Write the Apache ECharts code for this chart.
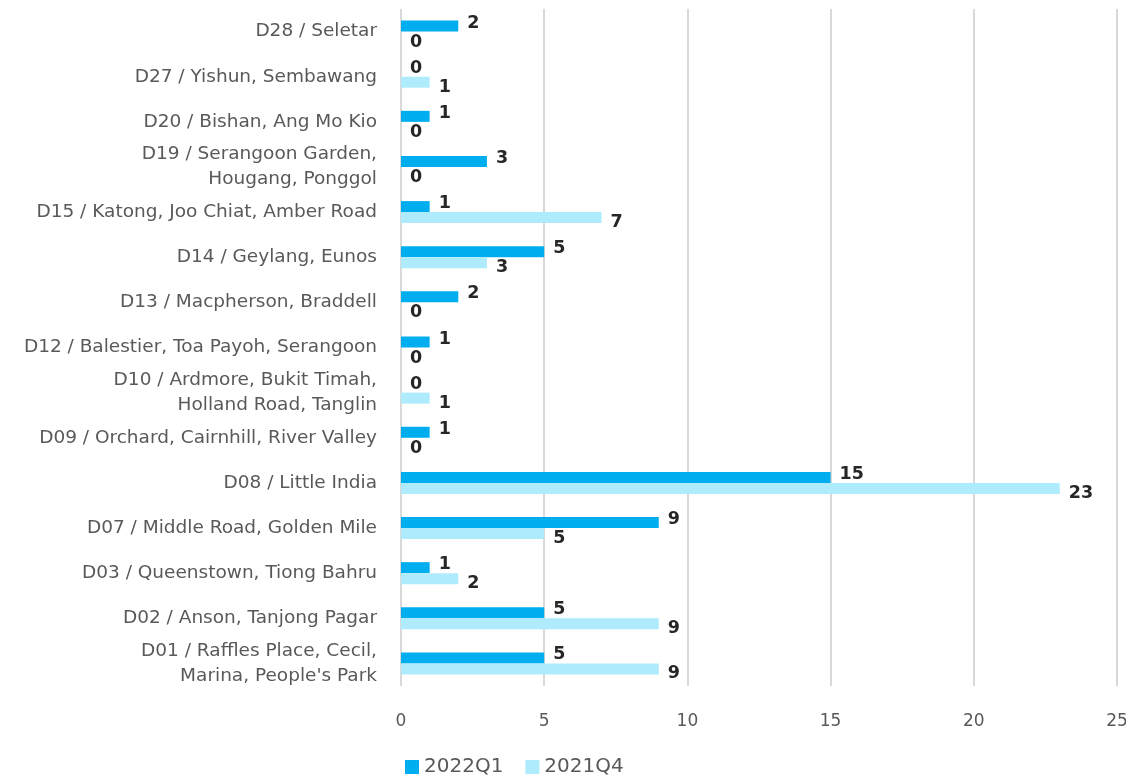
<!DOCTYPE html>
<html>
<head>
<meta charset="utf-8">
<script src="https://cdn.jsdelivr.net/npm/echarts@6/dist/echarts.min.js"></script>
<style>
	html, body { margin: 0; padding: 0; background: #fff; }
	#main { width: 1126px; height: 775px; }
</style>
</head>
<body>
<div id="main"></div>
<script>
// categories, bottom to top as the axis draws them
var districts = [
	"D01 / Raffles Place, Cecil,\nMarina, People's Park",
	'D02 / Anson, Tanjong Pagar',
	'D03 / Queenstown, Tiong Bahru',
	'D07 / Middle Road, Golden Mile',
	'D08 / Little India',
	'D09 / Orchard, Cairnhill, River Valley',
	'D10 / Ardmore, Bukit Timah,\nHolland Road, Tanglin',
	'D12 / Balestier, Toa Payoh, Serangoon',
	'D13 / Macpherson, Braddell',
	'D14 / Geylang, Eunos',
	'D15 / Katong, Joo Chiat, Amber Road',
	'D19 / Serangoon Garden,\nHougang, Ponggol',
	'D20 / Bishan, Ang Mo Kio',
	'D27 / Yishun, Sembawang',
	'D28 / Seletar'
];
var q1_2022 = [5, 5, 1, 9, 15, 1, 0, 1, 2, 5, 1, 3, 1, 0, 2];
var q4_2021 = [9, 9, 2, 5, 23, 0, 1, 0, 0, 3, 7, 0, 0, 1, 0];
var seriesNames = ['2022Q1', '2021Q4'];
var xTicks = { min: 0, max: 25, interval: 5 };

var font = '"DejaVu Sans", sans-serif';

var myChart = echarts.init(document.getElementById('main'));

function barLabel(dy) {
	return {
		show: true,
		position: 'right',
		distance: 9,
		offset: [0, dy],
		color: '#262626',
		fontSize: 17.5,
		fontWeight: 'bold',
		fontFamily: font
	};
}

var option = {
	animation: false,
	color: ['#00AEEF', '#AEEBFC'],
	grid: {
		left: 401,
		right: 9,
		top: 9,
		bottom: 89,
		outerBoundsMode: 'none'
	},
	legend: {
		data: seriesNames,
		left: 400,
		top: 752,
		icon: 'rect',
		itemWidth: 14,
		itemHeight: 14,
		itemGap: 22,
		textStyle: { color: '#595959', fontSize: 20, fontFamily: font }
	},
	xAxis: {
		type: 'value',
		min: xTicks.min,
		max: xTicks.max,
		interval: xTicks.interval,
		axisLine: { show: false },
		axisTick: { show: false },
		axisLabel: { color: '#595959', fontSize: 17, margin: 27, fontFamily: font },
		splitLine: { lineStyle: { color: '#d9d9d9', width: 2 } }
	},
	yAxis: {
		type: 'category',
		data: districts,
		axisLine: { show: false },
		axisTick: { show: false },
		axisLabel: {
			color: '#595959',
			fontSize: 18.5,
			margin: 24,
			lineHeight: 25,
			fontFamily: font
		}
	},
	series: [{
		name: seriesNames[0],
		type: 'bar',
		data: q1_2022,
		barWidth: 11,
		barGap: '0%',
		label: barLabel(-3)
	}, {
		name: seriesNames[1],
		type: 'bar',
		data: q4_2021,
		barWidth: 11,
		barGap: '0%',
		label: barLabel(5)
	}]
};
myChart.setOption(option);
</script>
</body>
</html>
